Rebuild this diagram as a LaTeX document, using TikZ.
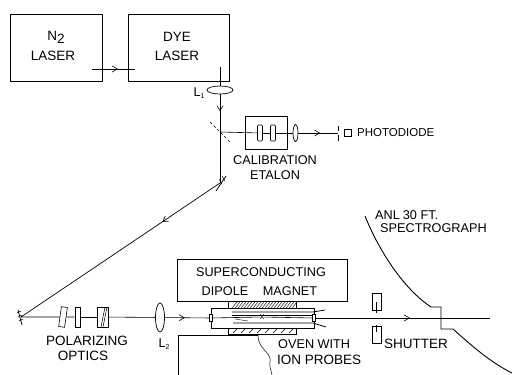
\documentclass[tikz,border=0pt]{standalone}
\usepackage{fontspec}
\setmainfont{Liberation Sans}
\usetikzlibrary{arrows.meta, decorations.markings, shapes.geometric, positioning}
\tikzset{
  lbl/.style={inner sep=0pt, font=\fontsize{12.7}{13}\selectfont},
  lblwide/.style={inner sep=0pt, font=\fontsize{13.5}{14}\selectfont},
  box/.style={draw, line width=1.2pt, inner sep=0pt, anchor=north west},
  optic/.style={draw, line width=0.6pt, fill=white, inner sep=0pt, minimum width=5pt},
  lens/.style={draw, ellipse, line width=0.7pt, fill=white, inner sep=0pt},
  beam/.style={line width=0.6pt},
  arrowat/.style={postaction={decorate}, decoration={markings,
    mark=at position #1 with {\arrow{Straight Barb[length=5pt,width=6pt]}}}},
}
\begin{document}
\begin{tikzpicture}[x=1pt,y=-1pt]
\useasboundingbox (0,0) rectangle (512,375);
% lasers
\node[box, minimum width=92pt, minimum height=67pt] (ntwo) at (10,14) {};
\node[box, minimum width=101pt, minimum height=67pt] (dye) at (128,14) {};
\node[lblwide] (ntwotext) at (56,37) {N\raisebox{-3pt}{2}};
\node[lblwide] (ntwolaser) at (53,56) {LASER};
\node[lblwide] (dyetext) at (177,37) {DYE};
\node[lblwide] (dyelaser) at (177,56) {LASER};
\coordinate (ntwoout) at (92,69);
\coordinate (dyein) at (135,69);
\draw[beam, arrowat=0.6] (ntwoout) -- (dyein);
% down from dye laser
\coordinate (dyeout) at (220,67);
\coordinate (split) at (220,132);
\coordinate (mirrora) at (220,183);
\node[lens, minimum width=26pt, minimum height=8pt] (lone) at (220,90) {};
\node[lbl] (lonetext) at (199,93) {L\raisebox{-2pt}{\scriptsize 1}};
\draw[beam] (dyeout) -- (lone);
\draw[beam, arrowat=0.45] (lone) -- (split);
\draw[beam] (split) -- (mirrora);
\draw[densely dashed, line width=0.4pt] (210,122) -- (230,142);
\draw[line width=0.8pt] (216,191) -- (226,176);
\draw[line width=0.5pt] (219,179) -- (222,184) (222,176) -- (225,181);
% etalon arm
\node[box, line width=0.9pt, minimum width=42pt, minimum height=33pt] (etalon) at (245,116) {};
\node[optic, rounded corners=1pt, minimum height=16pt] (plateone) at (260,133) {};
\node[optic, rounded corners=1pt, minimum height=16pt] (platetwo) at (273,133) {};
\node[lens, minimum width=5pt, minimum height=17pt] (lensthree) at (295.5,133) {};
\coordinate (slit) at (338,133);
\node[draw, line width=0.6pt, minimum size=7pt, inner sep=0pt, right=6pt of slit] (diode) {};
\draw[beam] (split) -- (plateone);
\draw[beam] (plateone) -- (platetwo);
\draw[beam] (platetwo) -- (lensthree);
\draw[beam, arrowat=0.55] (lensthree) -- (slit);
\draw[line width=0.8pt] (338,126) -- (338,131) (338,135) -- (338,141);
\node[inner sep=0pt, font=\fontsize{11.5}{12}\selectfont, anchor=west] (diodetext) at (357,133) {PHOTODIODE};
\node[lbl] (calib) at (275,160) {CALIBRATION};
\node[lbl] (etatext) at (275,175) {ETALON};
% long beam and polarizing optics
\coordinate (mirrorb) at (21,317);
\draw[beam, line width=0.7pt, arrowat=0.29] (mirrora) -- (mirrorb);
\draw[line width=0.8pt] (18,310) -- (22,325);
\draw[line width=0.5pt] (17,313) -- (21,311) (18,317) -- (22,315) (19,321) -- (23,319);
\node[optic, minimum width=6pt, minimum height=20pt, rotate=-8] (polone) at (63,317) {};
\node[optic, minimum height=20pt] (poltwo) at (77.5,317) {};
\node[optic, minimum width=11pt, minimum height=20pt] (polthree) at (102.5,317) {};
\draw[line width=0.5pt] (101,327) -- (105,307) (103,327) -- (107,307);
\node[lens, minimum width=9pt, minimum height=29pt] (ltwo) at (160,317.5) {};
\draw[beam] (mirrorb) -- (polone);
\draw[beam] (polone) -- (poltwo);
\draw[beam] (poltwo) -- (polthree);
\draw[beam] (polthree) -- (ltwo);
\node[lblwide] (poltext) at (87,341) {POLARIZING};
\node[lblwide] (opttext) at (83,356) {OPTICS};
\node[lbl] (ltwotext) at (164,344) {L\raisebox{-2pt}{\scriptsize 2}};
% magnet and oven
\node[box, minimum width=170pt, minimum height=42pt] (magnet) at (177,259) {};
\node[lbl] (supertext) at (261,272) {SUPERCONDUCTING};
\node[lbl] (dipole) at (225,291) {DIPOLE};
\node[lbl] (magtext) at (290,291) {MAGNET};
\node[box, line width=0.7pt, minimum width=68pt, minimum height=33pt] (oven) at (228,301) {};
\foreach \hx in {232,235,...,292}
  \draw[line width=0.4pt] (\hx,308) -- (\hx+5,302);
\foreach \hx in {236,244,...,292}
  \draw[line width=0.4pt] (\hx-3,333) -- (\hx+2,328);
\node[box, line width=0.8pt, fill=white, minimum width=103pt, minimum height=20pt] (tube) at (211,308) {};
\node[optic, minimum width=3pt, minimum height=7pt] (winone) at (211,318) {};
\node[optic, minimum width=3pt, minimum height=7pt] (wintwo) at (314,318) {};
\node[inner sep=0pt, font=\small] (target) at (262,317) {x};
\draw[beam, arrowat=0.45] (ltwo) -- (winone);
\draw[beam] (winone) -- (target);
\draw[beam] (target) -- (wintwo);
\draw[line width=0.8pt] (232,312) -- (313,312) -- (325,310);
\draw[line width=0.5pt] (232,315) -- (313,315);
\draw[line width=0.8pt] (233,323) -- (313,323) -- (326,327);
\draw[line width=0.4pt] (235,319) -- (248,321);
% table under the oven
\coordinate (tablea) at (178,375);
\coordinate (tableb) at (178,335);
\coordinate (tablec) at (258,335);
\coordinate (tabled) at (272,375);
\draw[line width=0.9pt] (tablea) -- (tableb) -- (tablec);
\draw[line width=0.5pt] (tablec) .. controls (258,350) and (272,352) .. (270,362) .. controls (269,368) and (272,372) .. (tabled);
\node[lbl, anchor=west] (oventext) at (278,344) {OVEN WITH};
\node[lblwide, anchor=west] (probes) at (277,360) {ION PROBES};
% shutter and spectrograph
\coordinate (beamend) at (490,318);
\node[optic, minimum width=9pt, minimum height=17pt] (shutop) at (376.5,301.5) {};
\node[optic, minimum width=9pt, minimum height=17pt] (shutlow) at (376.5,334.5) {};
\draw[beam] (376,302) -- (376,313);
\draw[beam] (376,325) -- (376,332);
\draw[beam, arrowat=0.54] (wintwo) -- (beamend);
\node[lblwide, anchor=west] (shuttext) at (384,344) {SHUTTER};
\draw[line width=0.9pt] (365,216) .. controls (382,258) and (408,292) .. (431,307) -- (441,307) -- (441,329) -- (453,329) .. controls (472,346) and (490,362) .. (512,373);
\node[lbl, anchor=west] (anl) at (375,215) {ANL\hspace{3pt}30 FT.};
\node[lbl, anchor=west] (specto) at (380,228) {SPECTROGRAPH};
\end{tikzpicture}
\end{document}
